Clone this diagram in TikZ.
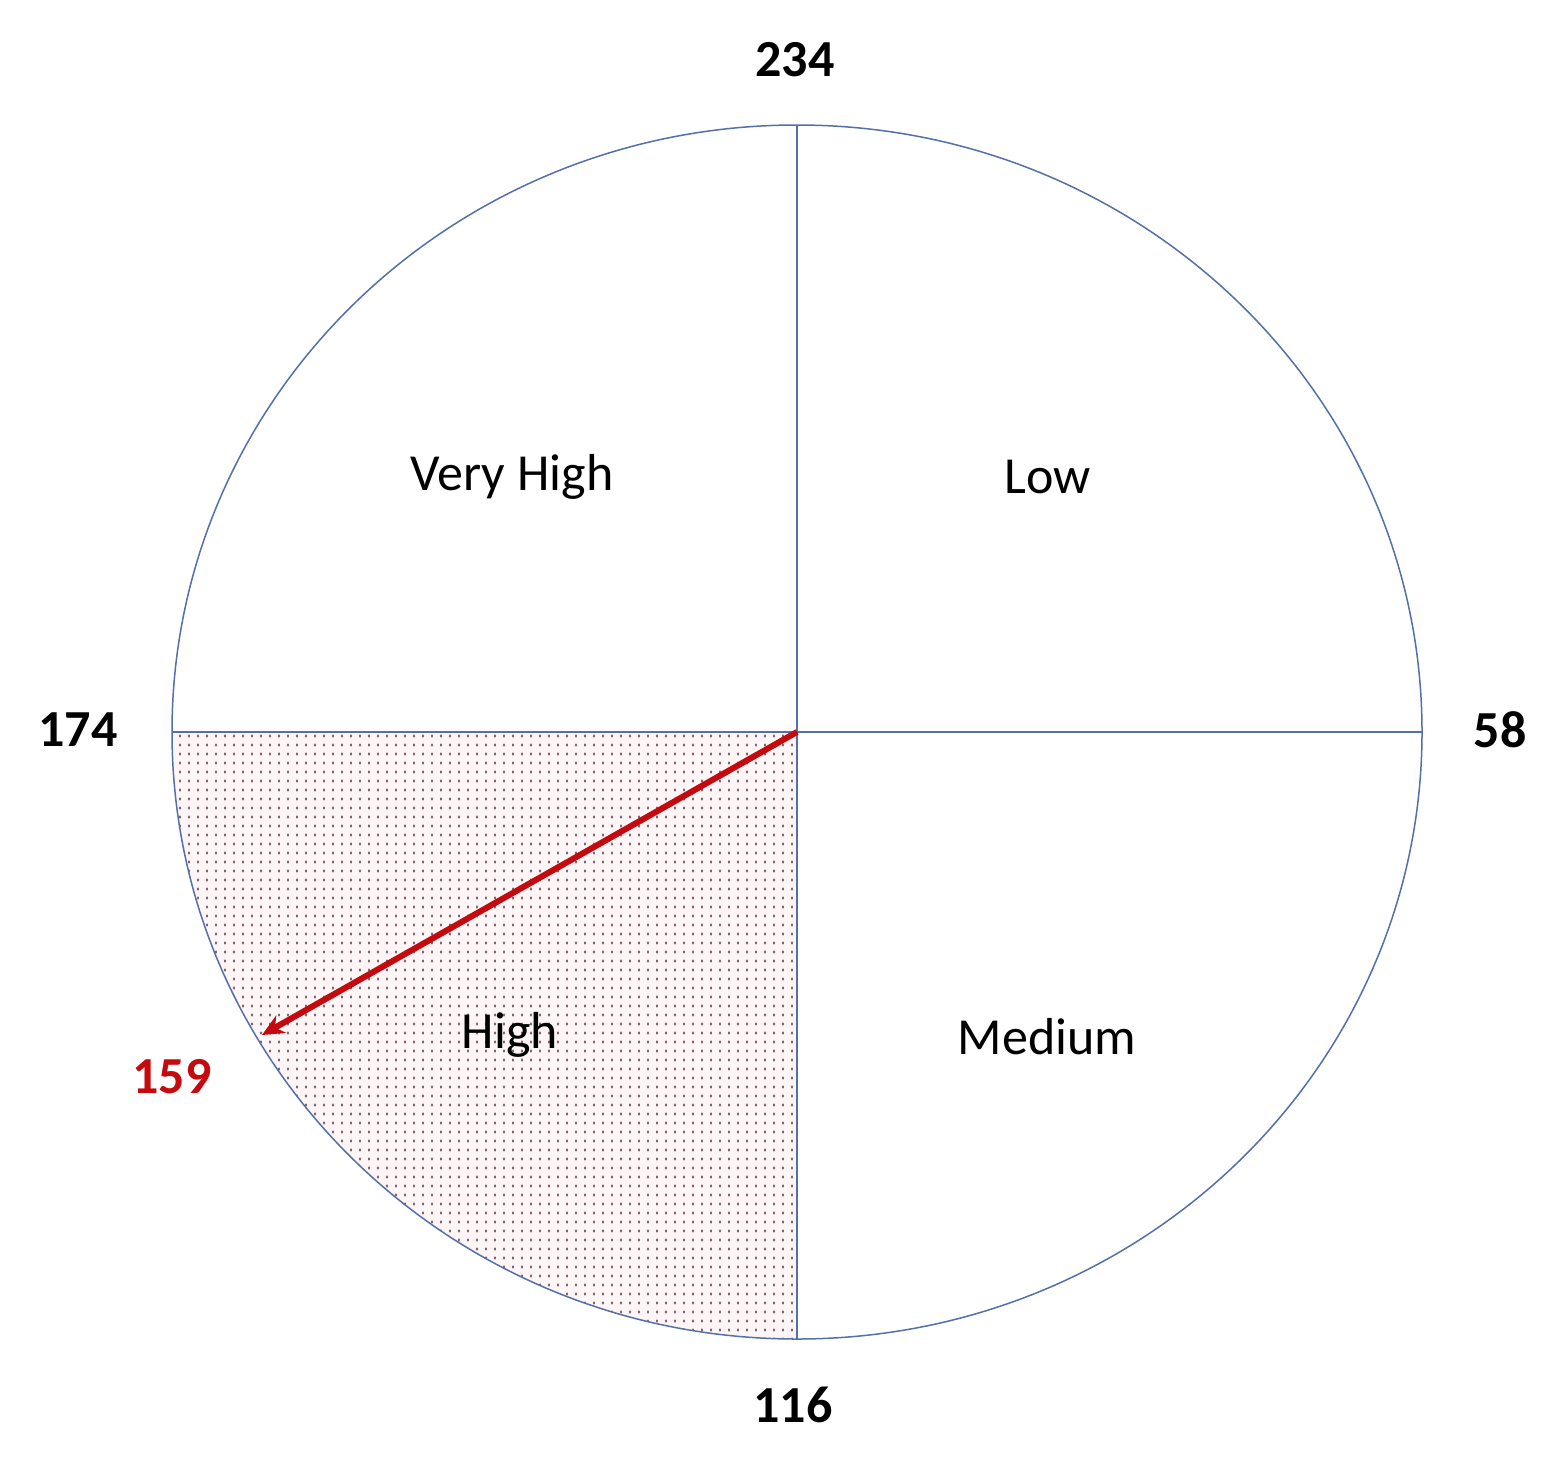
\documentclass[tikz,border=0pt]{standalone}
\usepackage{fontspec}
\setmainfont{Carlito}
\usetikzlibrary{arrows.meta,patterns.meta}
\definecolor{linec}{RGB}{84,112,168}
\definecolor{arrowc}{RGB}{196,10,14}
\definecolor{pinkfill}{RGB}{254,246,246}
\definecolor{dotc}{RGB}{80,70,75}
\tikzdeclarepattern{name=mydots,type=uncolored,
  bottom left={(-4.5pt,-4.5pt)},top right={(4.5pt,4.5pt)},tile size={(9pt,9pt)},
  code={\fill (0pt,0pt) circle (1.2pt);}}
\tikzdeclarepattern{name=mydots2,type=uncolored,
  bottom left={(-4.5pt,-4.5pt)},top right={(4.5pt,4.5pt)},tile size={(9pt,9pt)},
  code={\fill (-1.2pt,-1.6pt) rectangle (1.2pt,1.6pt);}}
\tikzset{
  quad/.style={draw=linec,line width=1.5pt},
  lab/.style={font=\fontsize{52}{62}\selectfont,text=black,inner sep=0pt},
  num/.style={font=\fontsize{52}{62}\selectfont\bfseries,text=black,inner sep=0pt},
  redarrow/.style={draw=arrowc,line width=6pt,-{Stealth[length=22pt,width=20pt]}}
}
\begin{document}
\begin{tikzpicture}[x=1pt,y=1pt]
\useasboundingbox[fill=white] (0,0) rectangle (1563,-1465);
\coordinate (c) at (797,-732);
\coordinate (l) at (172,-732);
\coordinate (r) at (1422,-732);
\coordinate (t) at (797,-125);
\coordinate (b) at (797,-1339);
\coordinate (tip) at (262,-1035);
% shaded quadrant
\fill[pinkfill] (c) -- (l) arc[start angle=180,end angle=270,x radius=625pt,y radius=607pt] -- cycle;
\fill[pattern=mydots2,pattern color={rgb,255:red,238;green,205;blue,210}] (c) -- (l) arc[start angle=180,end angle=270,x radius=625pt,y radius=607pt] -- cycle;
\begin{scope}[shift={(4.5pt,4.5pt)}]
\fill[pattern=mydots,pattern color=dotc] (c) -- (l) arc[start angle=180,end angle=270,x radius=625pt,y radius=607pt] -- cycle;
\end{scope}
% ellipse and axes
\draw[quad] (c) ellipse[x radius=625pt,y radius=607pt];
\draw[quad] (l) -- (r);
\draw[quad] (t) -- (b);
% arrow
\draw[redarrow] (c) -- (tip);
% labels
\node[lab] (vh) at (512,-477) {Very High};
\node[lab] (lo) at (1048,-477) {Low};
\node[lab] (hi) at (510,-1035) {High};
\node[lab] (me) at (1047,-1037) {Medium};
\node[num] (n234) at (795,-60) {234};
\node[num] (n174) at (78,-730) {174};
\node[num] (n58) at (1500,-730) {58};
\node[num] (n116) at (793,-1405) {116};
\node[num,text=arrowc] (n159) at (172,-1077) {159};
\end{tikzpicture}
\end{document}
